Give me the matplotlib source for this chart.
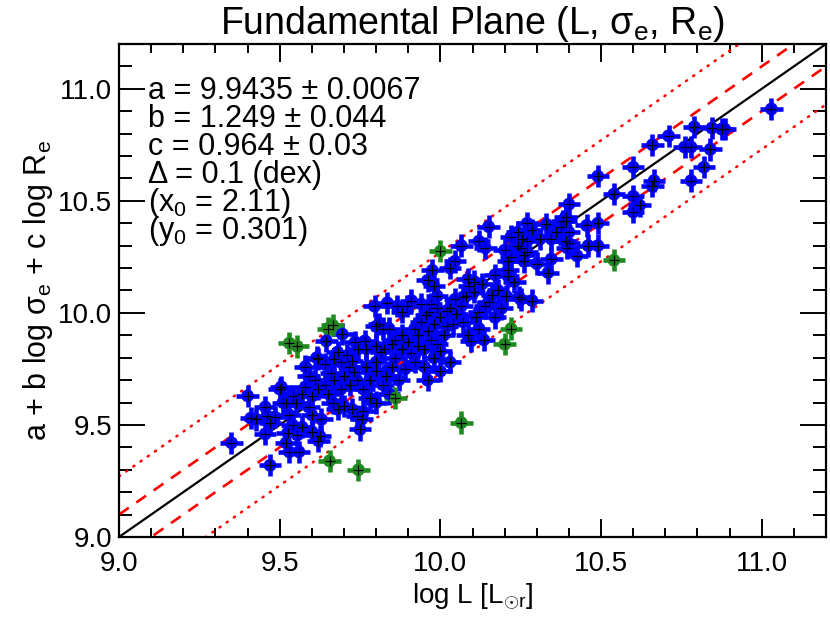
import matplotlib
matplotlib.use("Agg")
import matplotlib.pyplot as plt
from matplotlib.ticker import MultipleLocator, FormatStrFormatter

plt.rcParams["font.family"] = ["Liberation Sans", "DejaVu Sans"]
plt.rcParams["mathtext.fontset"] = "custom"
plt.rcParams["mathtext.rm"] = "Liberation Sans"
plt.rcParams["mathtext.it"] = "Liberation Sans:italic"
plt.rcParams["mathtext.bf"] = "Liberation Sans:bold"

# fitted galaxies: (log L, a + b log sigma_e + c log R_e)
blue_pts = [
    (9.35, 9.42), (9.40, 9.63), (9.41, 9.53), (9.425, 9.525), (9.455, 9.58), (9.46, 9.54),
    (9.47, 9.51), (9.455, 9.46), (9.47, 9.32), (9.485, 9.535), (9.50, 9.66), (9.51, 9.60),
    (9.505, 9.67), (9.53, 9.545), (9.54, 9.50), (9.525, 9.465), (9.57, 9.49), (9.555, 9.455),
    (9.52, 9.42), (9.53, 9.38), (9.56, 9.38), (9.54, 9.63), (9.55, 9.60), (9.57, 9.64),
    (9.58, 9.67), (9.52, 9.60), (9.59, 9.58), (9.60, 9.545), (9.63, 9.525), (9.60, 9.47),
    (9.625, 9.45), (9.62, 9.43), (9.665, 9.60), (9.68, 9.57), (9.70, 9.585), (9.725, 9.57),
    (9.74, 9.54), (9.755, 9.525), (9.75, 9.48), (9.60, 9.63), (9.62, 9.66), (9.61, 9.70),
    (9.64, 9.68), (9.65, 9.64), (9.67, 9.70), (9.69, 9.66), (9.70, 9.72), (9.72, 9.68),
    (9.74, 9.70), (9.62, 9.795), (9.64, 9.77), (9.645, 9.875), (9.68, 9.825), (9.71, 9.81),
    (9.725, 9.785), (9.67, 9.795), (9.69, 9.78), (9.715, 9.76), (9.695, 9.905), (9.735, 9.87),
    (9.745, 9.84), (9.59, 9.72), (9.58, 9.76), (9.66, 9.73), (9.73, 9.735), (9.615, 9.80),
    (9.77, 9.84), (9.765, 9.875), (9.80, 9.85), (9.815, 9.825), (9.825, 9.84), (9.795, 10.03),
    (9.80, 9.94), (9.835, 10.045), (9.82, 9.93), (9.84, 9.93), (9.81, 9.95), (9.865, 10.03),
    (9.88, 10.005), (9.76, 9.66), (9.78, 9.70), (9.80, 9.74), (9.82, 9.68), (9.83, 9.72),
    (9.78, 9.62), (9.77, 9.76), (9.80, 9.78), (9.85, 9.76), (9.86, 9.80), (9.88, 9.84),
    (9.87, 9.70), (9.89, 9.75), (9.76, 9.56), (9.80, 9.60), (9.84, 9.64), (9.86, 9.88),
    (9.88, 9.90), (9.85, 9.86), (9.90, 9.87), (9.91, 10.055), (9.895, 10.03), (9.94, 10.04),
    (9.97, 10.04), (9.965, 10.005), (9.99, 10.02), (9.955, 9.99), (9.975, 10.19), (9.96, 10.145),
    (9.98, 10.12), (9.99, 10.075), (10.02, 10.01), (10.05, 9.995), (10.045, 10.06), (10.07, 10.07),
    (10.065, 10.03), (10.03, 10.02), (9.92, 9.93), (9.94, 9.96), (9.93, 9.90), (9.96, 9.92),
    (9.98, 9.95), (10.00, 9.98), (9.91, 9.82), (9.93, 9.85), (9.95, 9.84), (9.97, 9.88),
    (9.99, 9.86), (10.01, 9.90), (9.92, 9.78), (9.95, 9.76), (9.98, 9.80), (10.00, 9.83),
    (9.96, 9.70), (10.00, 9.74), (10.03, 9.78), (10.04, 9.95), (10.02, 9.94), (10.07, 9.96),
    (10.085, 9.90), (10.095, 9.875), (10.12, 9.93), (10.135, 9.88), (10.045, 10.23), (10.03, 10.20),
    (10.065, 10.30), (10.12, 10.32), (10.14, 10.29), (10.15, 10.385), (10.085, 10.15), (10.105, 10.14),
    (10.13, 10.13), (10.09, 10.12), (10.105, 10.095), (10.08, 10.075), (10.14, 10.03), (10.12, 10.005),
    (10.17, 10.17), (10.21, 10.19), (10.21, 10.165), (10.16, 10.08), (10.18, 10.10), (10.15, 10.05),
    (10.19, 10.02), (10.17, 9.98), (10.11, 9.98), (10.20, 10.28), (10.22, 10.25), (10.24, 10.30),
    (10.21, 10.23), (10.26, 10.26), (10.25, 10.29), (10.27, 10.27), (10.26, 10.23), (10.27, 10.40),
    (10.33, 10.395), (10.36, 10.36), (10.375, 10.385), (10.39, 10.41), (10.40, 10.36), (10.285, 10.37),
    (10.255, 10.33), (10.27, 10.32), (10.31, 10.33), (10.345, 10.33), (10.39, 10.32), (10.40, 10.31),
    (10.395, 10.29), (10.425, 10.255), (10.345, 10.24), (10.335, 10.18), (10.25, 10.06), (10.285, 10.055),
    (10.205, 10.075), (10.245, 10.07), (10.40, 10.485), (10.39, 10.43), (10.38, 10.41), (10.455, 10.39),
    (10.49, 10.40), (10.46, 10.30), (10.49, 10.30), (10.30, 10.22), (10.23, 10.14), (10.22, 10.34),
    (10.24, 10.36), (10.49, 10.61), (10.60, 10.65), (10.66, 10.75), (10.71, 10.79), (10.79, 10.83),
    (10.845, 10.825), (10.875, 10.82), (10.885, 10.82), (10.76, 10.74), (10.78, 10.74), (10.84, 10.73),
    (10.82, 10.65), (10.78, 10.59), (10.665, 10.59), (10.66, 10.565), (10.54, 10.53), (10.60, 10.52),
    (10.62, 10.48), (10.60, 10.45), (11.03, 10.91),
]
blue_x = [p[0] for p in blue_pts]
blue_y = [p[1] for p in blue_pts]

# rejected outliers
green_x = [9.53, 9.555, 9.65, 9.665, 9.655, 9.745, 9.86, 10.00, 10.065, 10.20, 10.22, 10.54]
green_y = [9.865, 9.85, 9.93, 9.945, 9.34, 9.30, 9.62, 10.275, 9.51, 9.86, 9.93, 10.235]

x_err = 0.035
y_err = 0.05
delta = 0.1
outer = 0.27
fit_lines = [
    "a = 9.9435 \u00b1 0.0067",
    "b = 1.249 \u00b1 0.044",
    "c = 0.964 \u00b1 0.03",
    "\u0394 = 0.1 (dex)",
    "(x$_0$ = 2.11)",
    "(y$_0$ = 0.301)",
]

fig = plt.figure(figsize=(8.3, 6.22), dpi=100)
ax = fig.add_axes([0.1434, 0.1367, 0.8518, 0.7926])

xs = [9.0, 11.2]
ax.plot(xs, xs, color="black", lw=1.6, zorder=2)
for off in (delta, -delta):
    ax.plot(xs, [v + off for v in xs], color="red", lw=1.9, ls=(0, (4.5, 3.5)), zorder=2)
for off in (outer, -outer):
    ax.plot(xs, [v + off for v in xs], color="red", lw=1.8, ls=(0, (0.5, 3.0)),
            dash_capstyle="round", zorder=2)


def draw_points(x, y, color):
    ax.errorbar(x, y, xerr=x_err, yerr=y_err, fmt="none", ecolor=color,
                elinewidth=3.3, capsize=0, zorder=3)
    ax.scatter(x, y, s=85, marker="o", color=color, edgecolors="none", zorder=4)
    ax.scatter(x, y, s=45, marker="+", color="black", linewidths=0.9, zorder=5)


draw_points(blue_x, blue_y, "#0000ff")
draw_points(green_x, green_y, "#1f8a1f")

ax.set_xlim(9.0, 11.2)
ax.set_ylim(9.0, 11.2)
ax.xaxis.set_major_locator(MultipleLocator(0.5))
ax.xaxis.set_minor_locator(MultipleLocator(0.1))
ax.yaxis.set_major_locator(MultipleLocator(0.5))
ax.yaxis.set_minor_locator(MultipleLocator(0.1))
ax.xaxis.set_major_formatter(FormatStrFormatter("%.1f"))
ax.yaxis.set_major_formatter(FormatStrFormatter("%.1f"))
ax.tick_params(which="both", direction="in", top=True, right=True, width=1.4,
               labelsize=20, colors="black")
ax.tick_params(axis="x", which="major", length=13, pad=10)
ax.tick_params(axis="x", which="minor", length=6.5)
ax.tick_params(axis="y", which="major", length=19, pad=5)
ax.tick_params(axis="y", which="minor", length=9.5)
for sp in ax.spines.values():
    sp.set_linewidth(1.6)

ax.set_xlabel(r"log L [L$_{\odot\mathrm{r}}$]", fontsize=20, labelpad=3)
ax.set_ylabel("a + b log \u03c3$_\\mathrm{e}$ + c log R$_\\mathrm{e}$", fontsize=22, labelpad=2)
ax.set_title("Fundamental Plane (L, \u03c3$_\\mathrm{e}$, R$_\\mathrm{e}$)", fontsize=27, pad=6)

for i, line in enumerate(fit_lines):
    ax.text(0.041, 0.905 - i * 0.0568, line, transform=ax.transAxes, fontsize=22,
            va="center", ha="left")

fig.savefig("out.png", dpi=100)
